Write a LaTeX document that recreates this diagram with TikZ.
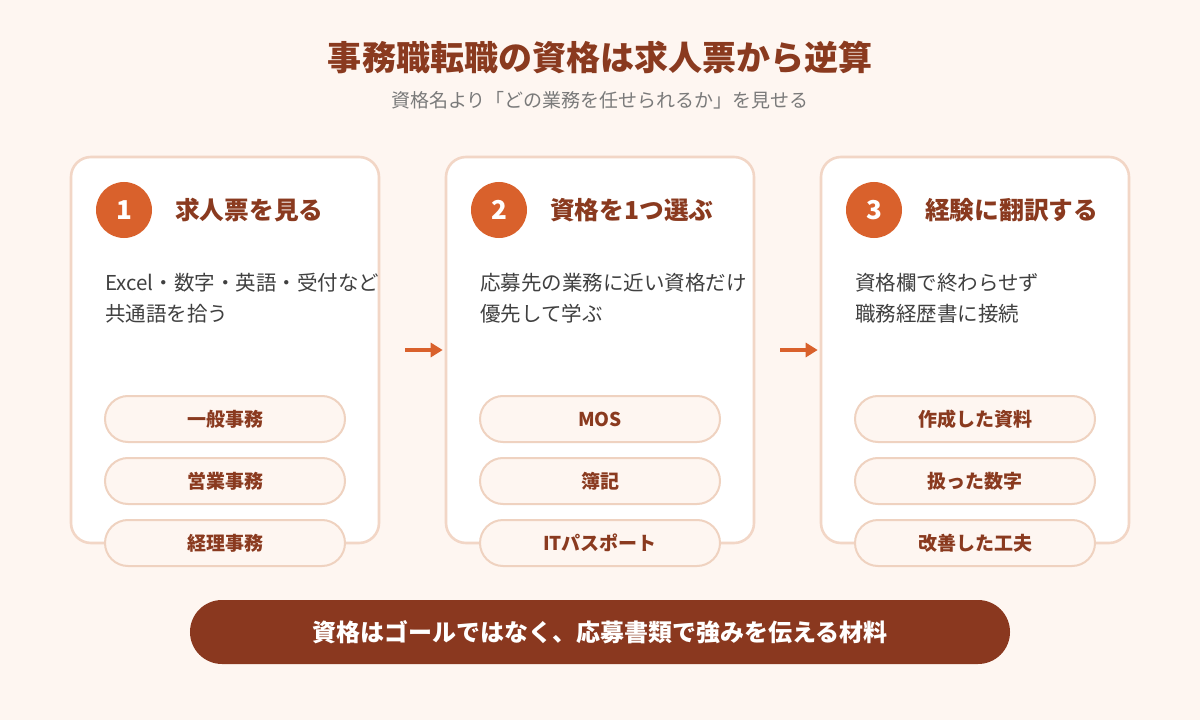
\documentclass[tikz,border=0pt]{standalone}
\usepackage{fontspec}
\setmainfont{Noto Sans CJK JP}
\usetikzlibrary{arrows.meta}
\definecolor{bgc}{HTML}{FEF6F1}
\definecolor{cardline}{HTML}{F2D6C6}
\definecolor{pillline}{HTML}{EFD2C0}
\definecolor{accent}{HTML}{D9612C}
\definecolor{brown}{HTML}{8A3A1F}
\definecolor{banner}{HTML}{8A381F}
\definecolor{bodytxt}{HTML}{404040}
\definecolor{subtxt}{HTML}{7A7A7A}
\tikzset{
  card/.style={draw=cardline, line width=2.6bp, fill=white, rounded corners=20bp,
    minimum width=308bp, minimum height=386bp, inner sep=0pt},
  pill/.style={draw=pillline, line width=2bp, fill=bgc, rounded corners=23bp,
    minimum width=240bp, minimum height=46bp, inner sep=0pt,
    font=\fontsize{19bp}{21bp}\selectfont\bfseries, text=brown},
  numcircle/.style={circle, fill=accent, minimum size=56bp, inner sep=0pt,
    font=\fontsize{26bp}{28bp}\selectfont\bfseries, text=white},
  cardtitle/.style={anchor=west, inner sep=0pt, text=brown,
    font=\fontsize{24.7bp}{27bp}\selectfont\bfseries},
  bodytext/.style={anchor=west, inner sep=0pt, align=left, text=bodytxt,
    font=\fontsize{20.5bp}{31bp}\selectfont},
  flowarrow/.style={draw=accent, line width=4bp, -{Triangle[length=12bp,width=14bp]},
    shorten <=25bp, shorten >=2bp},
}
\begin{document}
\begin{tikzpicture}[x=1bp,y=-1bp]
\fill[bgc] (0,0) rectangle (1200,720);
\useasboundingbox (0,0) rectangle (1200,720);

\node[inner sep=0pt, text=brown, font=\fontsize{34bp}{36bp}\selectfont\bfseries] (title) at (600,57) {事務職転職の資格は求人票から逆算};
\node[inner sep=0pt, text=subtxt, font=\fontsize{19bp}{21bp}\selectfont] (subtitle) at (600,100) {資格名より「どの業務を任せられるか」を見せる};

% cards
\node[card] (c1) at (225,350) {};
\node[card] (c2) at (600,350) {};
\node[card] (c3) at (975,350) {};

% card 1
\node[numcircle] (n1) at (124,210) {1};
\node[cardtitle] (t1) at (175,210) {求人票を見る};
\node[bodytext] (b1) at (105,298.5) {Excel・数字・英語・受付など\\共通語を拾う};
\node[pill] (p11) at (225,419) {一般事務};
\node[pill] (p12) at (225,481) {営業事務};
\node[pill] (p13) at (225,543) {経理事務};

% card 2
\node[numcircle] (n2) at (499,210) {2};
\node[cardtitle] (t2) at (550,210) {資格を1つ選ぶ};
\node[bodytext] (b2) at (480,298.5) {応募先の業務に近い資格だけ\\優先して学ぶ};
\node[pill] (p21) at (600,419) {MOS};
\node[pill] (p22) at (600,481) {簿記};
\node[pill] (p23) at (600,543) {ITパスポート};

% card 3
\node[numcircle] (n3) at (874,210) {3};
\node[cardtitle] (t3) at (925,210) {経験に翻訳する};
\node[bodytext] (b3) at (855,298.5) {資格欄で終わらせず\\職務経歴書に接続};
\node[pill] (p31) at (975,419) {作成した資料};
\node[pill] (p32) at (975,481) {扱った数字};
\node[pill] (p33) at (975,543) {改善した工夫};

% arrows
\draw[flowarrow] (c1.east) -- (c2.west);
\draw[flowarrow] (c2.east) -- (c3.west);

% banner
\node[fill=banner, rounded corners=32bp, minimum width=820bp, minimum height=64bp, inner sep=0pt,
  text=white, font=\fontsize{24bp}{26bp}\selectfont\bfseries] (msg) at (600,632) {資格はゴールではなく、応募書類で強みを伝える材料};
\end{tikzpicture}
\end{document}
